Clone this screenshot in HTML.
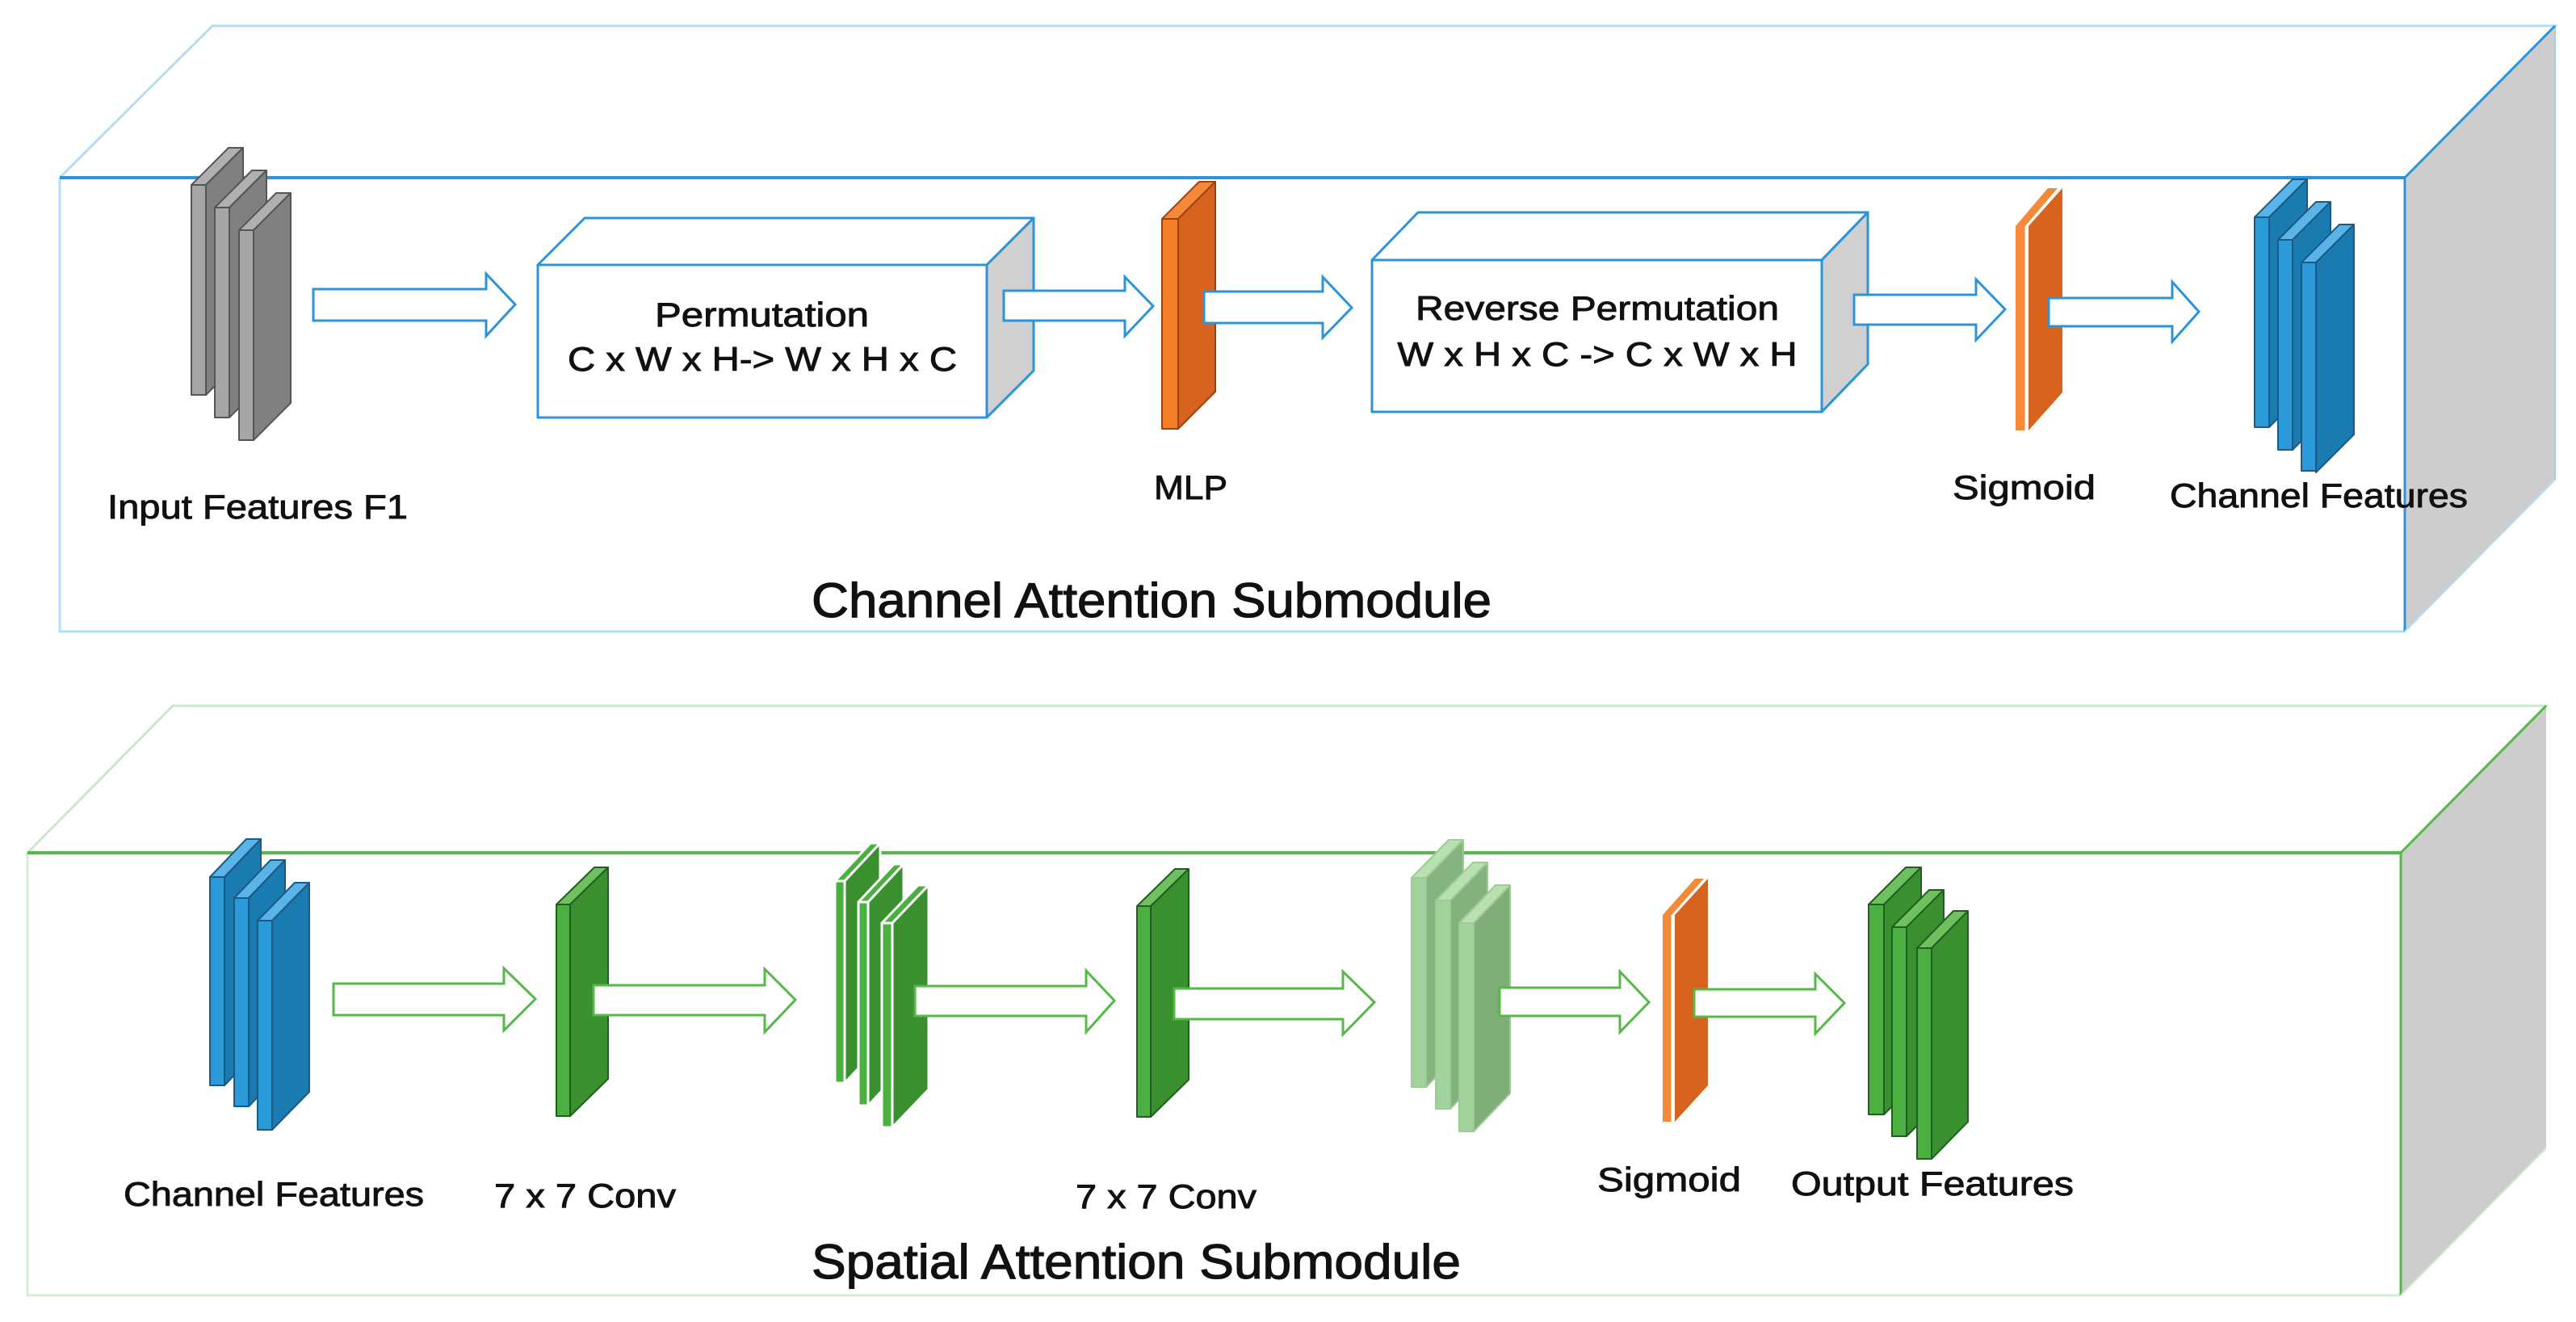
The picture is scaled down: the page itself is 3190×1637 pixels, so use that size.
<!DOCTYPE html>
<html><head><meta charset="utf-8"><style>
html,body{margin:0;padding:0;background:#fff;}
svg{display:block;}
text{font-family:"Liberation Sans",sans-serif;fill:#111;stroke:#111;stroke-width:0.9px;}
</style></head><body>
<svg width="3190" height="1637" viewBox="0 0 3190 1637" xmlns="http://www.w3.org/2000/svg">
<!-- TOP BOX -->
<polygon points="2978,220 3164,32 3164,594 2978,782" fill="#cdcdcd"/>
<polyline points="74,220 263,32 3164,32 2978,220" fill="none" stroke="#b5dcf5" stroke-width="3"/>
<line x1="3164" y1="32" x2="3164" y2="594" stroke="#9fd0f0" stroke-width="2"/>
<polyline points="74,220 74,782 2978,782" fill="none" stroke="#b5dcf5" stroke-width="3"/>
<line x1="74" y1="220" x2="2978" y2="220" stroke="#2b94d9" stroke-width="4"/>
<line x1="3164" y1="32" x2="2978" y2="220" stroke="#2b94d9" stroke-width="3"/>
<line x1="2978" y1="220" x2="2978" y2="782" stroke="#2b94d9" stroke-width="3"/>
<line x1="2978" y1="782" x2="3164" y2="594" stroke="#b5dcf5" stroke-width="2"/>

<!-- BOTTOM BOX -->
<polygon points="2973,1056 3153,874 3153,1422 2973,1604" fill="#cdcdcd"/>
<polyline points="34,1056 214,874 3153,874 2973,1056" fill="none" stroke="#c8e8c8" stroke-width="3"/>
<polyline points="34,1056 34,1604 2973,1604" fill="none" stroke="#d4ecd4" stroke-width="3"/>
<line x1="34" y1="1056" x2="2973" y2="1056" stroke="#54b948" stroke-width="4"/>
<line x1="3153" y1="874" x2="2973" y2="1056" stroke="#54b948" stroke-width="3"/>
<line x1="2973" y1="1056" x2="2973" y2="1604" stroke="#54b948" stroke-width="3"/>
<line x1="2973" y1="1604" x2="3153" y2="1422" stroke="#d4ecd4" stroke-width="2"/>

<!-- Permutation box -->
<g stroke="#2b94d9" stroke-width="3" stroke-linejoin="round">
<polygon points="666,328 724,270 1280,270 1222,328" fill="#fff"/>
<polygon points="1222,328 1280,270 1280,459 1222,517" fill="#d0d0d0"/>
<rect x="666" y="328" width="556" height="189" fill="#fff"/>
<polygon points="1699,322 1756,263 2313,263 2256,322" fill="#fff"/>
<polygon points="2256,322 2313,263 2313,451 2256,510" fill="#d0d0d0"/>
<rect x="1699" y="322" width="557" height="188" fill="#fff"/>
</g>
<text x="811" y="404" font-size="42" textLength="265" lengthAdjust="spacingAndGlyphs">Permutation</text>
<text x="944" y="459" font-size="42" text-anchor="middle" textLength="482" lengthAdjust="spacingAndGlyphs">C x W x H-&gt; W x H x C</text>
<text x="1978" y="396" font-size="42" text-anchor="middle" textLength="450" lengthAdjust="spacingAndGlyphs">Reverse Permutation</text>
<text x="1978" y="453" font-size="42" text-anchor="middle" textLength="495" lengthAdjust="spacingAndGlyphs">W x H x C -&gt; C x W x H</text>

<!-- Gray slabs -->
<g stroke="#555" stroke-width="2" stroke-linejoin="round">
<g transform="translate(237,229)"><polygon points="0,0 18,0 64,-46 46,-46" fill="#b0b0b0"/><polygon points="18,0 64,-46 64,214 18,260" fill="#808080"/><rect width="18" height="260" fill="#a6a6a6"/></g>
<g transform="translate(266,257)"><polygon points="0,0 18,0 64,-46 46,-46" fill="#b0b0b0"/><polygon points="18,0 64,-46 64,214 18,260" fill="#808080"/><rect width="18" height="260" fill="#a6a6a6"/></g>
<g transform="translate(296,285)"><polygon points="0,0 18,0 64,-46 46,-46" fill="#b0b0b0"/><polygon points="18,0 64,-46 64,214 18,260" fill="#808080"/><rect width="18" height="260" fill="#a6a6a6"/></g>
</g>
<!-- MLP slab -->
<g stroke="#a04010" stroke-width="2" stroke-linejoin="round" transform="translate(1439,271)">
<polygon points="0,0 20,0 66,-46 46,-46" fill="#f5893a"/><polygon points="20,0 66,-46 66,214 20,260" fill="#d8631e"/><rect width="20" height="260" fill="#f57f26"/>
</g>
<!-- Sigmoid slab top -->
<g transform="translate(2496,280)">
<polygon points="16,0 58,-47 58,206 16,253" fill="#d8631e"/>
<polygon points="0,0 12,0 52,-47 40,-47" fill="#f5893a"/>
<rect width="12" height="253" fill="#f58a3a"/>
<line x1="13" y1="0" x2="13" y2="253" stroke="#fff" stroke-width="3"/>
</g>
<!-- Blue slabs top -->
<g stroke="#1a5a85" stroke-width="2" stroke-linejoin="round">
<g transform="translate(2792,269)"><polygon points="0,0 18,0 65,-47 47,-47" fill="#5ab4e8"/><polygon points="18,0 65,-47 65,213 18,260" fill="#1a7bb0"/><rect width="18" height="260" fill="#2a9ad8"/></g>
<g transform="translate(2821,297)"><polygon points="0,0 18,0 65,-47 47,-47" fill="#5ab4e8"/><polygon points="18,0 65,-47 65,213 18,260" fill="#1a7bb0"/><rect width="18" height="260" fill="#2a9ad8"/></g>
<g transform="translate(2850,325)"><polygon points="0,0 18,0 65,-47 47,-47" fill="#5ab4e8"/><polygon points="18,0 65,-47 65,213 18,260" fill="#1a7bb0"/><rect width="18" height="258" fill="#2a9ad8"/></g>
</g>

<!-- Top arrows -->
<g fill="#fff" stroke="#2b94d9" stroke-width="3" stroke-linejoin="miter">
<polygon points="388,358 602,358 602,339 638,377 602,416 602,397 388,397"/>
<polygon points="1243,360 1393,360 1393,343 1428,379 1393,416 1393,397 1243,397"/>
<polygon points="1491,361 1638,361 1638,343 1674,381 1638,418 1638,400 1491,400"/>
<polygon points="2296,365 2447,365 2447,346 2483,383 2447,421 2447,402 2296,402"/>
<polygon points="2537,369 2690,369 2690,349 2723,386 2690,423 2690,404 2537,404"/>
</g>

<!-- Top labels -->
<text x="133" y="642" font-size="42" textLength="372" lengthAdjust="spacingAndGlyphs">Input Features F1</text>
<text x="1429" y="618" font-size="42" textLength="91" lengthAdjust="spacingAndGlyphs">MLP</text>
<text x="2418" y="618" font-size="42" textLength="177" lengthAdjust="spacingAndGlyphs">Sigmoid</text>
<text x="2687" y="628" font-size="42" textLength="369" lengthAdjust="spacingAndGlyphs">Channel Features</text>
<text x="1005" y="764" font-size="60" textLength="842" lengthAdjust="spacingAndGlyphs" style="stroke-width:1.2px">Channel Attention Submodule</text>

<!-- BOTTOM: blue slabs -->
<g stroke="#1a5a85" stroke-width="2" stroke-linejoin="round">
<g transform="translate(260,1086)"><polygon points="0,0 18,0 63,-47 45,-47" fill="#5ab4e8"/><polygon points="18,0 63,-47 63,211 18,258" fill="#1a7bb0"/><rect width="18" height="258" fill="#2a9ad8"/></g>
<g transform="translate(290,1112)"><polygon points="0,0 18,0 63,-47 45,-47" fill="#5ab4e8"/><polygon points="18,0 63,-47 63,211 18,258" fill="#1a7bb0"/><rect width="18" height="258" fill="#2a9ad8"/></g>
<g transform="translate(319,1140)"><polygon points="0,0 18,0 64,-47 46,-47" fill="#5ab4e8"/><polygon points="18,0 64,-47 64,212 18,259" fill="#1a7bb0"/><rect width="18" height="259" fill="#2a9ad8"/></g>
</g>
<!-- Conv slabs -->
<g stroke="#1f5f1f" stroke-width="2" stroke-linejoin="round">
<g transform="translate(689,1120)"><polygon points="0,0 17,0 64,-46 47,-46" fill="#70c060"/><polygon points="17,0 64,-46 64,216 17,262" fill="#3a8f2e"/><rect width="17" height="262" fill="#4cb040"/></g>
<g transform="translate(1408,1122)"><polygon points="0,0 17,0 64,-46 47,-46" fill="#70c060"/><polygon points="17,0 64,-46 64,215 17,261" fill="#3a8f2e"/><rect width="17" height="261" fill="#4cb040"/></g>
<g transform="translate(2314,1120)"><polygon points="0,0 19,0 65,-46 46,-46" fill="#70c060"/><polygon points="19,0 65,-46 65,214 19,260" fill="#3a8f2e"/><rect width="19" height="260" fill="#4cb040"/></g>
<g transform="translate(2343,1148)"><polygon points="0,0 18,0 64,-46 46,-46" fill="#70c060"/><polygon points="18,0 64,-46 64,213 18,259" fill="#3a8f2e"/><rect width="18" height="259" fill="#4cb040"/></g>
<g transform="translate(2374,1174)"><polygon points="0,0 18,0 63,-46 45,-46" fill="#70c060"/><polygon points="18,0 63,-46 63,215 18,261" fill="#3a8f2e"/><rect width="18" height="261" fill="#4cb040"/></g>
</g>
<!-- white-outlined green slabs -->
<g stroke="#fff" stroke-width="3" stroke-linejoin="round">
<g transform="translate(1034,1091)"><polygon points="0,0 12,0 56,-47 44,-47" fill="#4cb040"/><polygon points="12,0 56,-47 56,203 12,250" fill="#3a8f2e"/><rect width="12" height="250" fill="#4cb040"/></g>
<g transform="translate(1063,1117)"><polygon points="0,0 12,0 56,-47 44,-47" fill="#4cb040"/><polygon points="12,0 56,-47 56,205 12,252" fill="#3a8f2e"/><rect width="12" height="252" fill="#4cb040"/></g>
<g transform="translate(1092,1143)"><polygon points="0,0 13,0 58,-47 45,-47" fill="#4cb040"/><polygon points="13,0 58,-47 58,206 13,253" fill="#3a8f2e"/><rect width="13" height="253" fill="#4cb040"/></g>
</g>
<!-- faded slabs -->
<g stroke="#9ccc94" stroke-width="2" stroke-linejoin="round">
<g transform="translate(1748,1087)"><polygon points="0,0 18,0 64,-47 46,-47" fill="#b8e0b0"/><polygon points="18,0 64,-47 64,212 18,259" fill="#86b480"/><rect width="18" height="259" fill="#a3d39c"/></g>
<g transform="translate(1778,1115)"><polygon points="0,0 18,0 64,-47 46,-47" fill="#b8e0b0"/><polygon points="18,0 64,-47 64,211 18,258" fill="#84b27c"/><rect width="18" height="258" fill="#a3d39c"/></g>
<g transform="translate(1807,1143)"><polygon points="0,0 18,0 63,-47 45,-47" fill="#b8e0b0"/><polygon points="18,0 63,-47 63,211 18,258" fill="#7fae78"/><rect width="18" height="258" fill="#a3d39c"/></g>
</g>
<!-- Sigmoid slab bottom -->
<g transform="translate(2059,1133)">
<polygon points="15,0 56,-45 56,211 15,256" fill="#d8631e"/>
<polygon points="0,0 11,0 51,-45 40,-45" fill="#f5893a"/>
<rect width="11" height="256" fill="#f58a3a"/>
<line x1="12" y1="0" x2="12" y2="256" stroke="#fff" stroke-width="3"/>
</g>

<!-- Bottom arrows -->
<g fill="#fff" stroke="#54b948" stroke-width="3" stroke-linejoin="miter">
<polygon points="413,1218 624,1218 624,1199 663,1237 624,1276 624,1257 413,1257"/>
<polygon points="735,1220 947,1220 947,1200 985,1238 947,1278 947,1257 735,1257"/>
<polygon points="1133,1221 1345,1221 1345,1202 1380,1239 1345,1278 1345,1258 1133,1258"/>
<polygon points="1454,1224 1663,1224 1663,1203 1702,1241 1663,1281 1663,1262 1454,1262"/>
<polygon points="1857,1223 2006,1223 2006,1203 2042,1241 2006,1278 2006,1258 1857,1258"/>
<polygon points="2098,1225 2248,1225 2248,1206 2284,1242 2248,1280 2248,1259 2098,1259"/>
</g>

<!-- Bottom labels -->
<text x="153" y="1493" font-size="42" textLength="372" lengthAdjust="spacingAndGlyphs">Channel Features</text>
<text x="612" y="1495" font-size="42" textLength="225" lengthAdjust="spacingAndGlyphs">7 x 7 Conv</text>
<text x="1332" y="1496" font-size="42" textLength="224" lengthAdjust="spacingAndGlyphs">7 x 7 Conv</text>
<text x="1978" y="1475" font-size="42" textLength="178" lengthAdjust="spacingAndGlyphs">Sigmoid</text>
<text x="2218" y="1480" font-size="42" textLength="350" lengthAdjust="spacingAndGlyphs">Output Features</text>
<text x="1005" y="1583" font-size="60" textLength="804" lengthAdjust="spacingAndGlyphs" style="stroke-width:1.2px">Spatial Attention Submodule</text>
</svg>
</body></html>
